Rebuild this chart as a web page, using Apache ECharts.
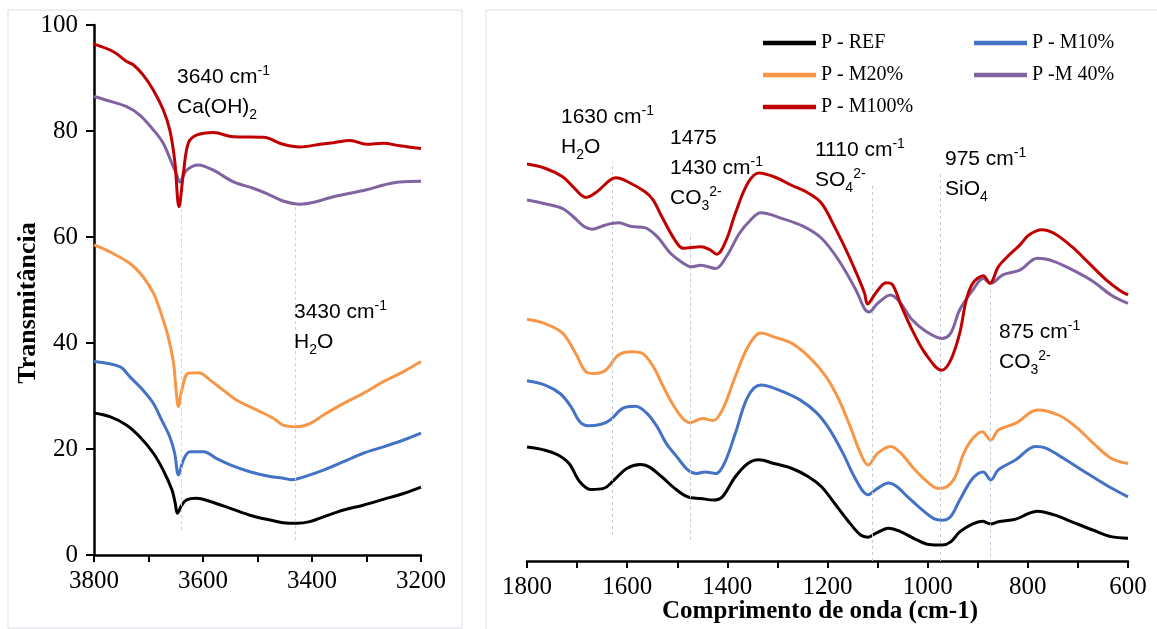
<!DOCTYPE html>
<html>
<head>
<meta charset="utf-8">
<script src="https://cdn.jsdelivr.net/npm/echarts@6/dist/echarts.min.js"></script>
<style>
  html, body { margin: 0; padding: 0; background: #ffffff; }
  #chart { width: 1157px; height: 629px; }
</style>
</head>
<body>
<div id="chart"></div>
<script>
// FTIR spectra of the pastes: O-H stretching region (left) and fingerprint region (right)

const seriesNames = ['P - REF', 'P - M10%', 'P - M20%', 'P -M 40%', 'P - M100%'];
const seriesColors = ['#000000', '#4472C4', '#F79646', '#8064A2', '#C00000'];

// 3800-3200 cm-1, [wavenumber, transmittance]
const refHigh = [[3800,26.8],[3771,26.1],[3740,24.5],[3716,22.3],[3691,19.2],[3673,16.0],[3657,12.3],[3651,9.8],[3647,7.9],[3639,9.4],[3630,10.4],[3612,10.7],[3587,10.1],[3550,8.8],[3514,7.5],[3477,6.6],[3453,6.1],[3428,6.0],[3404,6.3],[3379,7.2],[3342,8.5],[3306,9.4],[3269,10.5],[3232,11.6],[3200,12.8]];
const m10High = [[3800,36.5],[3752,35.5],[3734,33.6],[3710,31.1],[3691,28.6],[3676,25.5],[3661,22.3],[3652,19.2],[3645,15.1],[3636,17.9],[3624,19.5],[3599,19.5],[3575,18.2],[3550,17.0],[3514,15.7],[3477,14.8],[3453,14.5],[3437,14.2],[3416,14.7],[3379,16.0],[3342,17.6],[3306,19.2],[3269,20.4],[3232,21.7],[3200,23.0]];
const m20High = [[3800,58.5],[3771,57.2],[3734,55.0],[3710,52.5],[3691,49.4],[3679,46.2],[3664,41.2],[3654,36.2],[3650,31.8],[3645,28.0],[3639,31.1],[3627,34.3],[3608,34.4],[3587,33.0],[3563,31.1],[3538,29.2],[3502,27.4],[3471,25.8],[3453,24.5],[3428,24.2],[3404,24.8],[3379,26.4],[3342,28.6],[3306,30.5],[3269,32.7],[3232,34.6],[3200,36.5]];
const m40High = [[3800,86.5],[3777,85.8],[3740,84.6],[3716,83.0],[3691,80.2],[3673,77.7],[3657,73.9],[3648,71.7],[3643,70.4],[3630,72.6],[3609,73.6],[3581,72.6],[3544,70.4],[3508,69.2],[3483,68.2],[3453,66.8],[3422,66.2],[3391,66.7],[3361,67.6],[3300,68.9],[3269,69.8],[3239,70.4],[3200,70.5]];
const m100High = [[3800,96.4],[3765,95.0],[3740,93.1],[3728,92.5],[3710,90.6],[3691,87.7],[3673,84.0],[3661,80.2],[3652,74.5],[3644,65.7],[3636,72.0],[3627,77.7],[3612,79.2],[3581,79.7],[3544,78.9],[3489,78.8],[3453,77.5],[3422,77.0],[3385,77.5],[3361,77.8],[3330,78.2],[3300,77.5],[3269,77.7],[3239,77.2],[3200,76.7]];

// 1800-600 cm-1, [wavenumber, transmittance]
const refLow = [[1800,21.5],[1764,20.9],[1738,20.0],[1716,18.4],[1695,15.0],[1673,13.5],[1647,13.7],[1626,15.3],[1600,17.5],[1574,18.2],[1557,17.8],[1531,15.9],[1505,13.7],[1479,12.1],[1453,11.8],[1428,11.5],[1410,12.1],[1384,15.9],[1359,18.4],[1337,19.1],[1307,18.4],[1272,17.5],[1238,15.9],[1212,14.0],[1186,10.9],[1160,7.7],[1134,4.9],[1119,4.5],[1104,5.2],[1078,6.2],[1053,5.5],[1022,4.0],[997,3.1],[971,3.0],[954,3.6],[936,5.5],[910,7.0],[891,7.5],[874,7.0],[859,7.4],[824,7.9],[798,9.0],[781,9.4],[747,8.7],[712,7.4],[669,5.8],[634,4.6],[600,4.3]];
const m10Low = [[1800,34.0],[1764,33.2],[1734,31.6],[1712,29.1],[1695,26.3],[1678,25.5],[1652,25.8],[1634,26.6],[1609,28.8],[1583,29.2],[1561,27.9],[1540,25.3],[1522,22.2],[1501,19.7],[1479,17.2],[1462,16.5],[1445,16.8],[1423,16.5],[1406,18.4],[1384,24.1],[1359,31.0],[1333,33.2],[1298,32.3],[1255,30.4],[1221,27.9],[1195,24.7],[1169,20.3],[1143,15.3],[1119,12.5],[1100,13.7],[1078,14.7],[1061,14.0],[1040,12.1],[1014,9.9],[988,8.0],[971,7.7],[954,8.4],[936,11.5],[910,15.6],[889,16.8],[874,15.3],[859,17.2],[824,19.1],[785,21.6],[764,21.3],[729,19.4],[686,16.8],[643,14.3],[600,12.1]];
const m20Low = [[1800,45.6],[1764,44.8],[1729,43.0],[1703,39.2],[1682,35.7],[1665,35.4],[1643,36.0],[1617,38.9],[1591,39.5],[1570,39.2],[1548,36.7],[1531,33.5],[1514,30.4],[1492,27.2],[1475,26.1],[1449,26.9],[1428,26.5],[1410,28.5],[1384,34.8],[1359,40.4],[1333,43.0],[1307,42.3],[1272,41.1],[1238,38.6],[1203,34.8],[1177,30.4],[1152,24.7],[1134,20.3],[1119,18.1],[1100,20.3],[1074,21.6],[1053,20.3],[1031,17.8],[1005,15.3],[979,13.7],[962,14.0],[945,15.9],[928,20.3],[910,23.1],[891,24.4],[874,22.8],[859,24.7],[824,26.0],[781,28.5],[738,27.5],[704,25.3],[669,22.2],[634,19.4],[600,18.4]];
const m40Low = [[1800,68.1],[1764,67.4],[1729,66.5],[1708,65.0],[1686,63.1],[1669,62.6],[1643,63.4],[1617,63.8],[1591,63.1],[1565,62.9],[1540,61.2],[1514,58.1],[1488,56.2],[1471,55.5],[1453,55.8],[1423,55.2],[1402,57.4],[1376,61.8],[1354,64.3],[1333,65.7],[1290,64.6],[1247,63.1],[1212,60.9],[1178,56.8],[1143,51.1],[1126,47.6],[1117,47.0],[1100,48.6],[1074,50.2],[1055,48.8],[1031,45.5],[1003,43.3],[972,42.0],[954,43.0],[936,47.4],[910,51.1],[889,53.3],[874,52.4],[850,54.0],[816,54.9],[781,57.1],[747,56.5],[704,54.6],[669,52.7],[634,50.2],[600,48.6]];
const m100Low = [[1800,74.9],[1764,74.1],[1729,72.5],[1708,70.6],[1682,68.6],[1660,69.7],[1634,71.9],[1622,72.3],[1600,71.6],[1565,69.7],[1548,68.1],[1531,65.0],[1505,60.6],[1488,59.0],[1453,59.3],[1436,58.8],[1421,57.9],[1402,60.6],[1384,65.6],[1359,71.3],[1337,73.2],[1307,72.5],[1272,70.9],[1238,69.4],[1212,67.5],[1186,63.1],[1160,58.1],[1139,53.6],[1126,50.5],[1120,48.5],[1104,50.5],[1083,52.5],[1070,52.1],[1053,48.2],[1031,43.6],[1005,39.2],[972,36.0],[954,37.9],[936,43.0],[923,49.2],[910,52.4],[889,53.8],[876,52.4],[859,55.5],[841,57.4],[816,59.6],[798,61.5],[772,62.5],[747,61.8],[712,59.3],[678,56.2],[643,53.0],[617,51.1],[600,50.2]];

const highSets = [refHigh, m10High, m20High, m40High, m100High];
const lowSets = [refLow, m10Low, m20Low, m40Low, m100Low];

// Band guides: [wavenumber, lower transmittance, upper transmittance]
const bandsHigh = [[3640, 4.7, 72.6], [3430, 2.8, 66.4]];
const bandsLow = [[1630, 4.9, 75.3], [1475, 4.0, 61.9], [1110, 0, 70.9], [975, 0, 73.5], [875, 0.8, 51.7]];

// Band annotations: lines of rich text
const notes = [
  { x: 177, y: 62, lines: ['{t|3640 cm}{sup|-1}', '{t|Ca(OH)}{sub|2}'] },
  { x: 294, y: 297, lines: ['{t|3430 cm}{sup|-1}', '{t|H}{sub|2}{t|O}'] },
  { x: 561, y: 102, lines: ['{t|1630 cm}{sup|-1}', '{t|H}{sub|2}{t|O}'] },
  { x: 670, y: 123, lines: ['{t|1475}', '{t|1430 cm}{sup|-1}', '{t|CO}{sub|3}{sup|2-}'] },
  { x: 815, y: 135, lines: ['{t|1110 cm}{sup|-1}', '{t|SO}{sub|4}{sup|2-}'] },
  { x: 945, y: 144, lines: ['{t|975 cm}{sup|-1}', '{t|SiO}{sub|4}'] },
  { x: 999, y: 317, lines: ['{t|875 cm}{sup|-1}', '{t|CO}{sub|3}{sup|2-}'] }
];

const serif = 'Liberation Serif, Times New Roman, serif';
const sans = 'Liberation Sans, Arial, sans-serif';

const richStyles = {
  t: { fontFamily: sans, fontSize: 21, lineHeight: 30, fill: '#000' },
  sup: { fontFamily: sans, fontSize: 14, lineHeight: 30, verticalAlign: 'top', padding: [2, 0, 0, 0], fill: '#000' },
  sub: { fontFamily: sans, fontSize: 14, lineHeight: 30, verticalAlign: 'bottom', padding: [0, 0, 0, 0], fill: '#000' }
};

function xAxisFor(gridIndex, min, max) {
  return {
    type: 'value', gridIndex, min, max, interval: 100, inverse: true,
    axisLine: { show: true, onZero: false, lineStyle: { color: '#000', width: 2.5 } },
    axisTick: { show: true, inside: false, length: 7, lineStyle: { color: '#000', width: 2 } },
    axisLabel: {
      formatter: v => (v % 200 === 0 ? String(v) : ''),
      fontFamily: serif, fontSize: 25, color: '#000', margin: 14,
      showMinLabel: true, showMaxLabel: true
    },
    splitLine: { show: false }
  };
}

function bandSeries(bands, axisIndex, color) {
  return {
    type: 'line', xAxisIndex: axisIndex, yAxisIndex: axisIndex, data: [], z: 1,
    silent: true, animation: false,
    markLine: {
      silent: true, symbol: ['none', 'none'], label: { show: false },
      lineStyle: { color, width: 1, type: [3, 3], opacity: 1 },
      data: bands.map(b => [{ coord: [b[0], b[1]] }, { coord: [b[0], b[2]] }])
    }
  };
}

const series = [];
series.push(bandSeries(bandsHigh, 0, '#bfdcb2'));
series.push(bandSeries(bandsLow, 1, '#c3cde0'));
highSets.forEach((d, i) => series.push({
  name: seriesNames[i], type: 'line', xAxisIndex: 0, yAxisIndex: 0, data: d,
  symbol: 'none', smooth: 0.35, z: 2 + i,
  lineStyle: { color: seriesColors[i], width: 3 }, itemStyle: { color: seriesColors[i] }
}));
lowSets.forEach((d, i) => series.push({
  name: seriesNames[i], type: 'line', xAxisIndex: 1, yAxisIndex: 1, data: d,
  symbol: 'none', smooth: 0.35, z: 2 + i,
  lineStyle: { color: seriesColors[i], width: 3 }, itemStyle: { color: seriesColors[i] }
}));

// Legend laid out as two columns
function legendColumn(names, left) {
  return {
    data: names, left, top: 22, orient: 'vertical',
    itemWidth: 53, itemHeight: 14, itemGap: 0,
    icon: 'path://M0,0 L53,0 L53,4.5 L0,4.5 Z',
    selectedMode: false,
    textStyle: { fontFamily: serif, fontSize: 20, lineHeight: 32, color: '#000' }
  };
}

const graphic = [
  { type: 'rect', shape: { x: 8, y: 10, width: 454, height: 618 }, style: { fill: 'none', stroke: '#d9dee6', lineWidth: 1 }, z: 0 },
  { type: 'rect', shape: { x: 486, y: 10, width: 700, height: 640 }, style: { fill: 'none', stroke: '#d9dee6', lineWidth: 1 }, z: 0 },
  { type: 'text', x: 28, y: 303, rotation: Math.PI / 2,
    style: { text: 'Transmitância', fontFamily: serif, fontWeight: 'bold', fontSize: 26, fill: '#000', textAlign: 'center', textVerticalAlign: 'middle' } },
  { type: 'text', x: 820, y: 612,
    style: { text: 'Comprimento de onda (cm-1)', fontFamily: serif, fontWeight: 'bold', fontSize: 25, fill: '#000', textAlign: 'center', textVerticalAlign: 'middle' } }
];
notes.forEach(n => graphic.push({
  type: 'text', x: n.x, y: n.y, z: 10,
  style: { text: n.lines.join('\n'), rich: richStyles, textAlign: 'left', textVerticalAlign: 'top' }
}));

const option = {
  animation: false,
  backgroundColor: '#ffffff',
  grid: [
    { left: 94, right: 736, top: 25, bottom: 74 },
    { left: 527, right: 29, top: 31, bottom: 68 }
  ],
  xAxis: [xAxisFor(0, 3200, 3800), xAxisFor(1, 600, 1800)],
  yAxis: [
    {
      type: 'value', gridIndex: 0, min: 0, max: 100, interval: 20,
      axisLine: { show: true, lineStyle: { color: '#000', width: 2.5 } },
      axisTick: { show: true, length: 8, lineStyle: { color: '#000', width: 2 } },
      axisLabel: { fontFamily: serif, fontSize: 25, color: '#000', margin: 16 },
      splitLine: { show: false }
    },
    { type: 'value', gridIndex: 1, min: 0, max: 100, show: false, splitLine: { show: false } }
  ],
  legend: [
    legendColumn(['P - REF', 'P - M20%', 'P - M100%'], 758),
    legendColumn(['P - M10%', 'P -M 40%'], 969)
  ],
  graphic,
  series
};

const chart = echarts.init(document.getElementById('chart'), null, { renderer: 'canvas' });
chart.setOption(option);
</script>
</body>
</html>
